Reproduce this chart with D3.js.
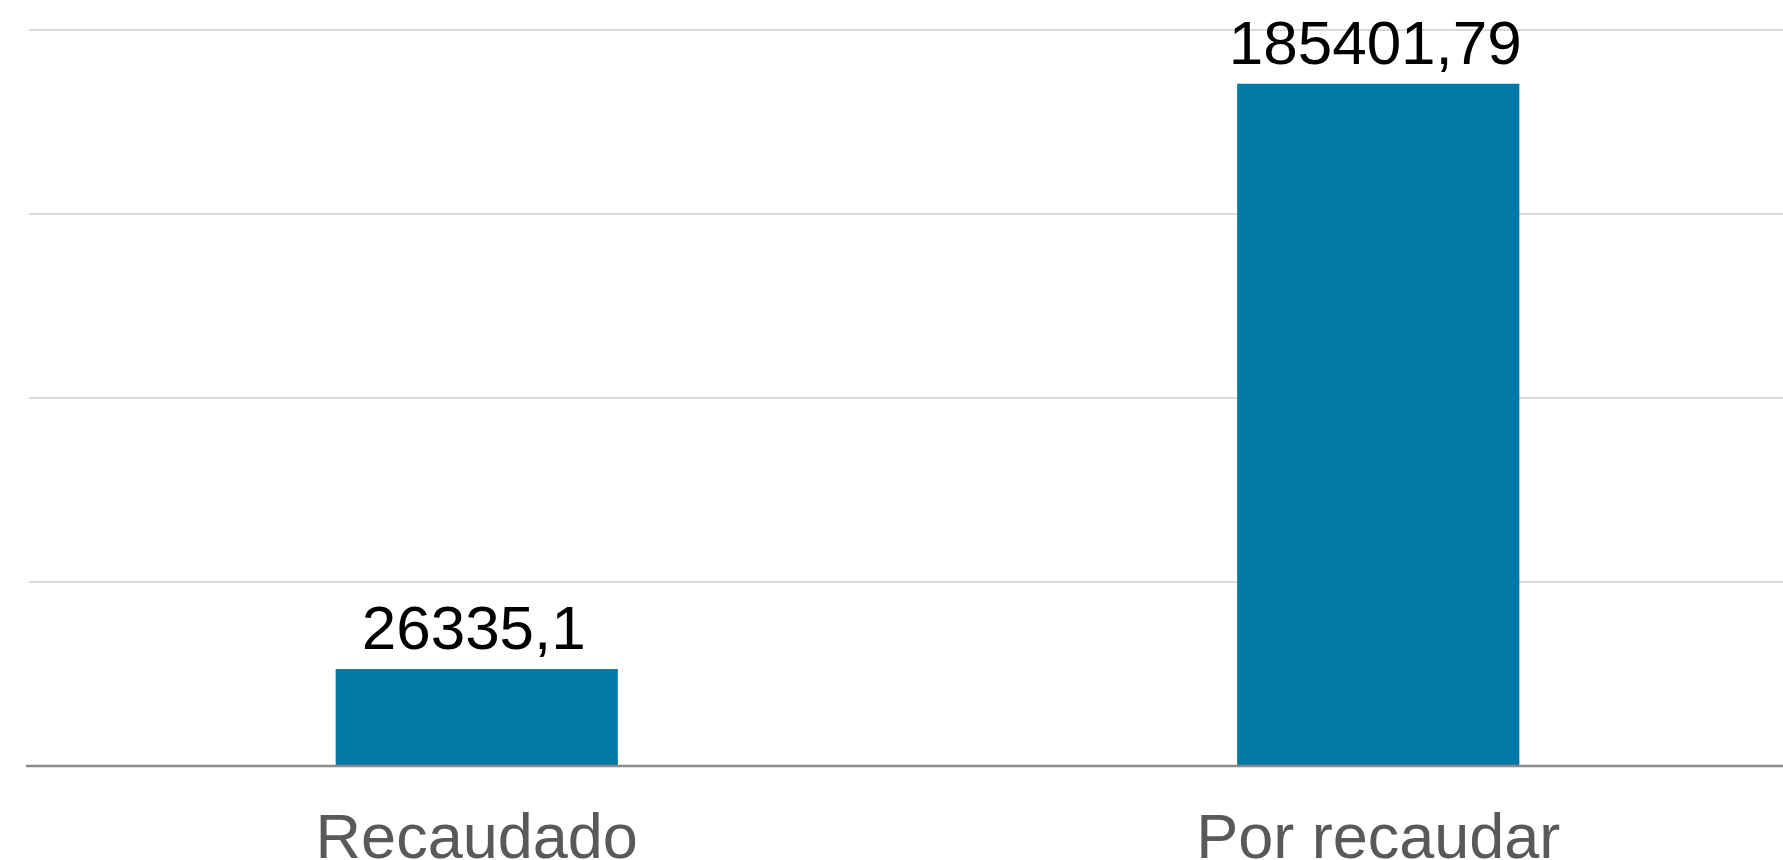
<!DOCTYPE html>
<html>
<head>
<meta charset="utf-8">
<script src="https://cdn.jsdelivr.net/npm/d3@7"></script>
<style>
html,body{margin:0;padding:0;background:#fff;overflow:hidden;}
text{font-family:"Liberation Sans",Arial,Helvetica,sans-serif;}
</style>
</head>
<body>
<svg id="chart" width="1783" height="860"></svg>
<script>
const categories = ["Recaudado", "Por recaudar"];
const values = [26335.1, 185401.79];
const valueLabels = ["26335,1", "185401,79"];
const yTicks = [0, 50000, 100000, 150000, 200000];

const svg = d3.select("#chart");
const W = 1783, H = 860;
const x0 = 26, x1 = 26 + 2 * 901.5;
const yBottom = 766, yTop = 30;

const x = d3.scaleBand().domain(categories).range([x0, x1])
  .paddingInner(0.687).paddingOuter(0.3435);
const y = d3.scaleLinear().domain([0, 200000]).range([yBottom, yTop]);

// gridlines
svg.append("g").selectAll("line").data(yTicks.filter(d => d > 0)).join("line")
  .attr("x1", 29).attr("x2", W)
  .attr("y1", d => y(d)).attr("y2", d => y(d))
  .attr("stroke", "#d9d9d9").attr("stroke-width", 2);

// bars
svg.append("g").selectAll("rect").data(values).join("rect")
  .attr("x", (d, i) => x(categories[i]))
  .attr("width", x.bandwidth())
  .attr("y", d => y(d))
  .attr("height", d => y(0) - y(d))
  .attr("fill", "#0079a6");

// axis line
svg.append("line").attr("x1", 26).attr("x2", W)
  .attr("y1", y(0)).attr("y2", y(0))
  .attr("stroke", "#8c8c8c").attr("stroke-width", 2.5);

// value labels
svg.append("g").selectAll("text").data(values).join("text")
  .attr("x", (d, i) => x(categories[i]) + x.bandwidth() / 2 - 3)
  .attr("y", d => y(d) - 20)
  .attr("text-anchor", "middle")
  .attr("font-size", 62)
  .attr("fill", "#000")
  .text((d, i) => valueLabels[i]);

// category labels
svg.append("g").selectAll("text").data(categories).join("text")
  .attr("x", d => x(d) + x.bandwidth() / 2)
  .attr("y", 858)
  .attr("text-anchor", "middle")
  .attr("font-size", 63)
  .attr("fill", "#595959")
  .text(d => d);
</script>
</body>
</html>
